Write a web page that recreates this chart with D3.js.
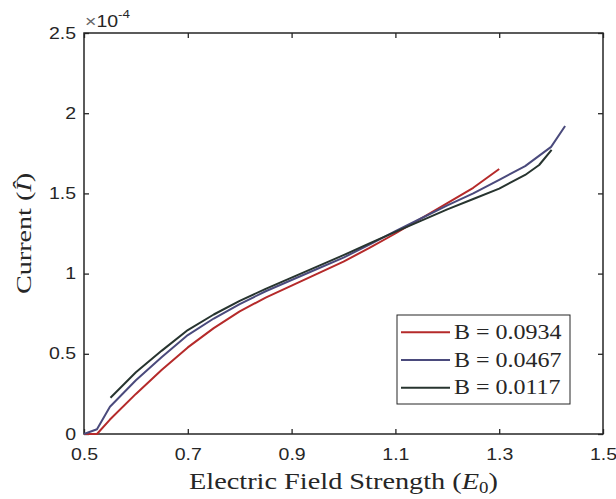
<!DOCTYPE html>
<html>
<head>
<meta charset="utf-8">
<script src="https://cdn.jsdelivr.net/npm/d3@7"></script>
<style>
  body { margin: 0; background: #fff; }
  svg text { fill: #262626; }
</style>
</head>
<body>
<svg id="chart" width="616" height="499"></svg>
<script>
// values in units of 1e-4
const redE   = [0.5, 0.525, 0.55, 0.6, 0.65, 0.7, 0.75, 0.8, 0.85, 0.9, 0.95, 1.0, 1.05, 1.1, 1.15, 1.2, 1.25, 1.3]
const redI   = [0, 0, 0.09, 0.25, 0.40, 0.54, 0.66, 0.765, 0.85, 0.925, 1.0, 1.075, 1.16, 1.25, 1.345, 1.44, 1.535, 1.652]

const blueE  = [0.5, 0.525, 0.55, 0.6, 0.65, 0.7, 0.75, 0.8, 0.85, 0.9, 0.95, 1.0, 1.05, 1.1, 1.15, 1.2, 1.25, 1.3, 1.35, 1.4, 1.427]
const blueI  = [0, 0.03, 0.17, 0.335, 0.48, 0.617, 0.72, 0.81, 0.89, 0.96, 1.03, 1.10, 1.18, 1.265, 1.345, 1.425, 1.50, 1.585, 1.67, 1.79, 1.92]

const blackE = [0.551, 0.6, 0.65, 0.7, 0.75, 0.8, 0.85, 0.9, 0.95, 1.0, 1.05, 1.1, 1.15, 1.2, 1.25, 1.3, 1.35, 1.377, 1.401]
const blackI = [0.226, 0.385, 0.52, 0.648, 0.745, 0.83, 0.905, 0.975, 1.045, 1.115, 1.188, 1.26, 1.33, 1.40, 1.465, 1.53, 1.615, 1.677, 1.771]

const seriesNames  = ["B = 0.0934", "B = 0.0467", "B = 0.0117"]
const seriesColors = ["#b52a2a", "#4a4a7c", "#27342f"]

const xTicks = [0.5, 0.7, 0.9, 1.1, 1.3, 1.5]
const yTicks = [0, 0.5, 1, 1.5, 2, 2.5]

const mLeft = 84, mRight = 603, mTop = 33, mBottom = 434

const svg = d3.select("#chart")

const x = d3.scaleLinear().domain([0.5, 1.5]).range([mLeft, mRight])
const y = d3.scaleLinear().domain([0, 2.5]).range([mBottom, mTop])

const tickFont = "'Liberation Sans', Arial, sans-serif"
const serif = "'Liberation Serif', 'Times New Roman', serif"
const axisColor = "#262626"
const sx = 1.22   // matlab fonts come out wider

// axes with inward ticks, mirrored on top/right
function styleAxis(g){
  g.select(".domain").remove()
  g.selectAll("line").attr("stroke", axisColor).attr("stroke-width", 1.3)
  g.selectAll("text").attr("font-family", tickFont).attr("font-size", 16).attr("fill", axisColor)
     .attr("transform", `scale(${sx},1)`)
}

svg.append("g")
   .attr("transform", `translate(0,${mBottom})`)
   .call(d3.axisBottom(x).tickValues(xTicks).tickSizeInner(-5).tickSizeOuter(0).tickPadding(15).tickFormat(d3.format(".1f")))
   .call(styleAxis)

svg.append("g")
   .attr("transform", `translate(0,${mTop})`)
   .call(d3.axisTop(x).tickValues(xTicks).tickSizeInner(-5).tickSizeOuter(0).tickFormat(""))
   .call(styleAxis)

svg.append("g")
   .attr("transform", `translate(${mLeft},0)`)
   .call(d3.axisLeft(y).tickValues(yTicks).tickSizeInner(-5).tickSizeOuter(0).tickFormat(d => d))
   .call(styleAxis)
   .selectAll("text").attr("x", -8 / sx)

svg.append("g")
   .attr("transform", `translate(${mRight},0)`)
   .call(d3.axisRight(y).tickValues(yTicks).tickSizeInner(-5).tickSizeOuter(0).tickFormat(""))
   .call(styleAxis)

svg.append("rect")
   .attr("x", mLeft).attr("y", mTop)
   .attr("width", mRight - mLeft).attr("height", mBottom - mTop)
   .attr("fill", "none").attr("stroke", axisColor).attr("stroke-width", 1.5)

// exponent label
const expo = svg.append("text")
   .attr("transform", `translate(${mLeft + 1},27) scale(${sx},1)`)
   .attr("font-family", tickFont).attr("font-size", 16)
expo.append("tspan").attr("fill", "#666").text("\u00d7")
expo.append("tspan").text("10")
expo.append("tspan").attr("dy", -9).attr("font-size", 11).text("-4")

// lines
const line = d3.line().x(d => x(d[0])).y(d => y(d[1]))
const data = [d3.zip(redE, redI), d3.zip(blueE, blueI), d3.zip(blackE, blackI)]

svg.selectAll(".curve")
   .data(data)
   .enter()
   .append("path")
   .attr("class", "curve")
   .attr("d", line)
   .attr("fill", "none")
   .attr("stroke", (d, i) => seriesColors[i])
   .attr("stroke-width", 2)
   .attr("stroke-linejoin", "round")

// axis labels
const xl = svg.append("text")
   .attr("transform", `translate(${(mLeft + mRight) / 2},489) scale(1.18,1)`)
   .attr("text-anchor", "middle")
   .attr("font-family", serif).attr("font-size", 24)
xl.append("tspan").text("Electric Field Strength (")
xl.append("tspan").attr("font-style", "italic").text("E")
xl.append("tspan").attr("font-size", 16).attr("dy", 4).text("0")
xl.append("tspan").attr("dy", -4).text(")")

const yl = svg.append("text")
   .attr("transform", `translate(31,${(mTop + mBottom) / 2}) rotate(-90) scale(1.28,1)`)
   .attr("text-anchor", "middle")
   .attr("font-family", serif).attr("font-size", 22)
yl.append("tspan").text("Current (")
yl.append("tspan").attr("font-style", "italic").text("\u00ce")
yl.append("tspan").text(")")

// legend
const legend = svg.append("g")
legend.append("rect")
      .attr("x", 397).attr("y", 315).attr("width", 173).attr("height", 89)
      .attr("fill", "#fff").attr("stroke", axisColor).attr("stroke-width", 1)

const rows = legend.selectAll(".row")
      .data(seriesNames)
      .enter()
      .append("g")
      .attr("transform", (d, i) => `translate(0,${332.3 + i * 27.7})`)

rows.append("line")
    .attr("x1", 401).attr("x2", 450)
    .attr("stroke", (d, i) => seriesColors[i]).attr("stroke-width", 2)

rows.append("text")
    .attr("transform", "translate(454,6.5) scale(1.2,1)")
    .attr("font-family", serif).attr("font-size", 20)
    .text(d => d)
</script>
</body>
</html>
